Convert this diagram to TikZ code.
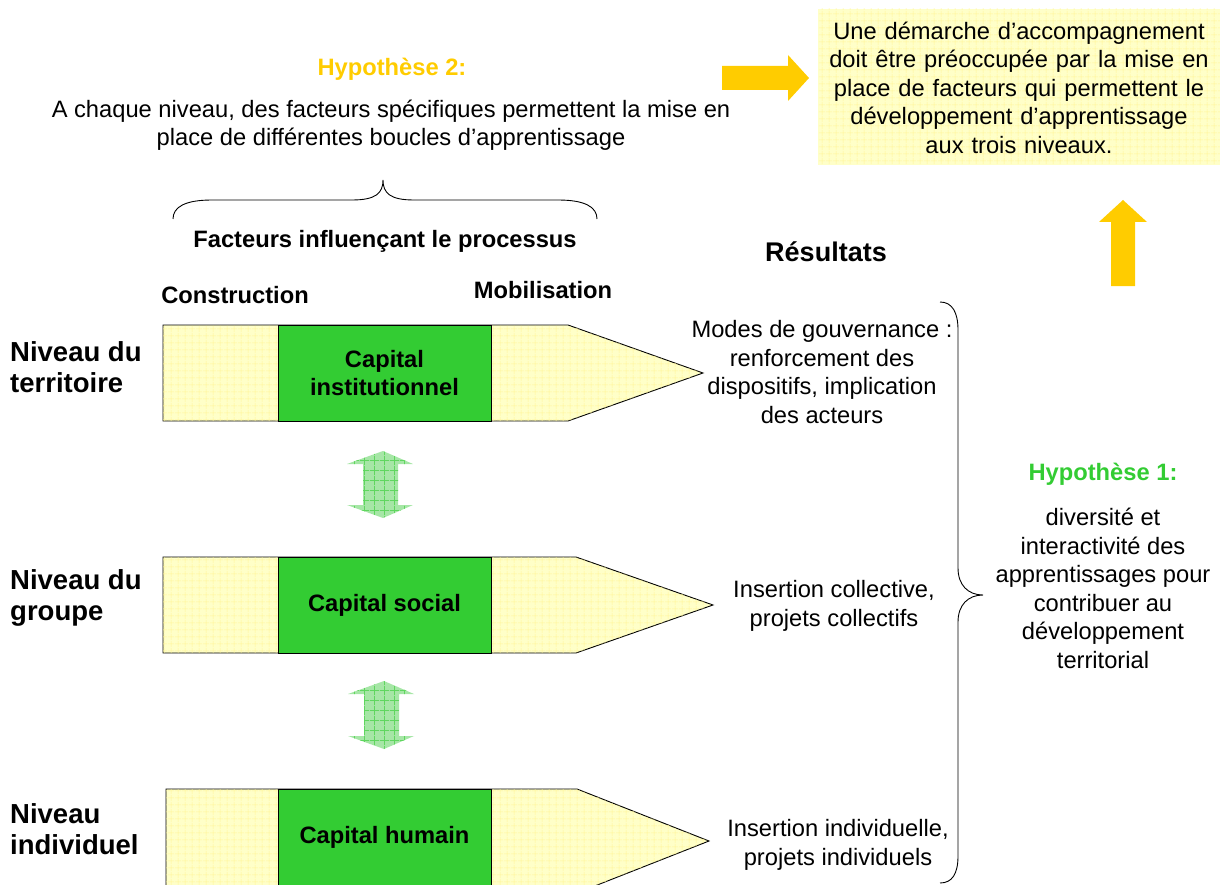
\documentclass[tikz,border=0pt]{standalone}
\usepackage{fontspec}
\setmainfont{Liberation Sans}
\usetikzlibrary{patterns.meta}
\definecolor{pale}{HTML}{FFFFC8}
\definecolor{palegrid}{HTML}{FFF59A}
\definecolor{capgreen}{HTML}{33CC33}
\definecolor{arrowyel}{HTML}{FFCC00}
\definecolor{hyporange}{HTML}{FFCC00}
\definecolor{hypgreen}{HTML}{33CC33}
\definecolor{dblgreen}{HTML}{A6E6A6}
\definecolor{dblgrid}{HTML}{5FD65F}
\tikzdeclarepattern{
  name=finegrid,
  type=uncolored,
  bounding box={(0pt,0pt) and (7pt,7pt)},
  tile size={(7pt,7pt)},
  code={\draw[line width=0.6pt] (0pt,3.5pt) -- (7pt,3.5pt) (3.5pt,0pt) -- (3.5pt,7pt);}
}
\tikzdeclarepattern{
  name=widegrid,
  type=uncolored,
  bounding box={(0pt,0pt) and (10pt,10pt)},
  tile size={(10pt,10pt)},
  code={\draw[line width=0.8pt] (0pt,5pt) -- (10pt,5pt) (5pt,0pt) -- (5pt,10pt);}
}
\tikzset{
  txt/.style={font=\fontsize{23.7}{28.5}\selectfont, align=center, inner sep=0pt},
  btxt/.style={font=\fontsize{23.7}{28.5}\selectfont\bfseries, align=center, inner sep=0pt},
  lvl/.style={font=\fontsize{27.5}{31}\selectfont\bfseries, align=left, inner sep=0pt, anchor=west},
  palefill/.style={fill=pale, postaction={pattern=finegrid, pattern color=palegrid}},
  penbody/.style={draw=black, line width=0.9pt, palefill},
  pengreen/.style={draw=black, line width=0.9pt, fill=capgreen},
  yelarrow/.style={fill=arrowyel, draw=none},
  dblarrow/.style={fill=dblgreen, draw=none, postaction={pattern=widegrid, pattern color=dblgrid}},
  bracestyle/.style={draw=black, line width=0.9pt}
}
\begin{document}
\begin{tikzpicture}[x=1pt,y=-1pt]
\useasboundingbox (0,0) rectangle (1220,885);

% top-right box
\path[palefill] (818,9) rectangle (1220,165);
\node[txt, text width=390pt] (goal) at (1019,87.5) {Une démarche d’accompagnement\\doit être préoccupée par la mise en\\place de facteurs qui permettent le\\développement d’apprentissage\\aux trois niveaux.};

% yellow arrows
\coordinate (rarrowtip) at (809,78);
\path[yelarrow] (722,66) -- (788,66) -- (788,55) -- (rarrowtip) -- (788,101) -- (788,90) -- (722,90) -- cycle;
\coordinate (uarrowtip) at (1123,200);
\path[yelarrow] (1111,286) -- (1111,222) -- (1099,222) -- (uarrowtip) -- (1147,222) -- (1135,222) -- (1135,286) -- cycle;

% hypothesis 2
\node[btxt, text=hyporange] (hyp2) at (392,69) {Hypothèse 2:};
\node[txt] (hyp2txt) at (391,125) {A chaque niveau, des facteurs spécifiques permettent la mise en\\place de différentes boucles d’apprentissage};

% top brace
\coordinate (tbl) at (173,219);
\coordinate (tbm) at (383,180);
\coordinate (tbr) at (597,219);
\draw[bracestyle] (tbl) .. controls (173,207) and (185,200) .. (212,200) -- (352,200)
   .. controls (376,200) and (383,193) .. (tbm)
   .. controls (383,193) and (390,200) .. (414,200) -- (558,200)
   .. controls (585,200) and (597,207) .. (tbr);

\node[btxt] (facteurs) at (385,241) {Facteurs influençant le processus};
\node[btxt] (constr) at (235,295) {Construction};
\node[btxt] (mobil) at (543,290) {Mobilisation};
\node[font=\fontsize{27}{31}\selectfont\bfseries, inner sep=0pt] (resultats) at (826,252) {Résultats};

% row 1
\path[penbody] (163,325) -- (568,325) -- (703,373) -- (568,421) -- (163,421) -- cycle;
\node[pengreen, minimum width=213pt, minimum height=96pt, inner sep=0pt] (capinst) at (384.5,373) {};
\node[btxt] at (capinst) {Capital\\institutionnel};
% row 2
\path[penbody] (163,557) -- (576,557) -- (713,605) -- (576,653) -- (163,653) -- cycle;
\node[pengreen, minimum width=213pt, minimum height=96pt, inner sep=0pt] (capsoc) at (384.5,605) {};
\node[btxt] at (capsoc) {Capital social};
% row 3
\path[penbody] (166,789) -- (577,789) -- (709,841) -- (577,893) -- (166,893) -- cycle;
\node[pengreen, minimum width=213pt, minimum height=104pt, inner sep=0pt] (caphum) at (384.5,841) {};
\node[btxt] at (384.5,837) {Capital humain};

% level labels
\node[lvl] (niv1) at (10,367) {Niveau du\\territoire};
\node[lvl] (niv2) at (10,598) {Niveau du\\groupe};
\node[lvl] (niv3) at (10,829) {Niveau\\individuel};

% double arrows
\path[dblarrow] (383,451) -- (413,464) -- (398,464) -- (398,505) -- (413,505) -- (383,518) -- (347,505) -- (363,505) -- (363,464) -- (347,464) -- cycle;
\path[dblarrow] (384,681) -- (414,694) -- (399,694) -- (399,736) -- (414,736) -- (384,749) -- (348,736) -- (364,736) -- (364,694) -- (348,694) -- cycle;

% results
\node[txt] (res1) at (822,372) {Modes de gouvernance :\\renforcement des\\dispositifs, implication\\des acteurs};
\node[txt] (res2) at (834,606) {Insertion collective,\\projets collectifs};
\node[txt] (res3) at (838,845) {Insertion individuelle,\\projets individuels};

% right brace
\coordinate (rbt) at (940,302);
\coordinate (rbm) at (983,595);
\coordinate (rbb) at (940,883);
\draw[bracestyle] (rbt) .. controls (952,302) and (958,312) .. (958,330) -- (958,568)
   .. controls (958,585) and (968,595) .. (rbm)
   .. controls (968,595) and (958,605) .. (958,622) -- (958,856)
   .. controls (958,874) and (952,883) .. (rbb);

% hypothesis 1
\node[btxt, text=hypgreen] (hyp1) at (1103,474) {Hypothèse 1:};
\node[txt] (hyp1txt) at (1103,588.5) {diversité et\\interactivité des\\apprentissages pour\\contribuer au\\développement\\territorial};
\end{tikzpicture}
\end{document}
